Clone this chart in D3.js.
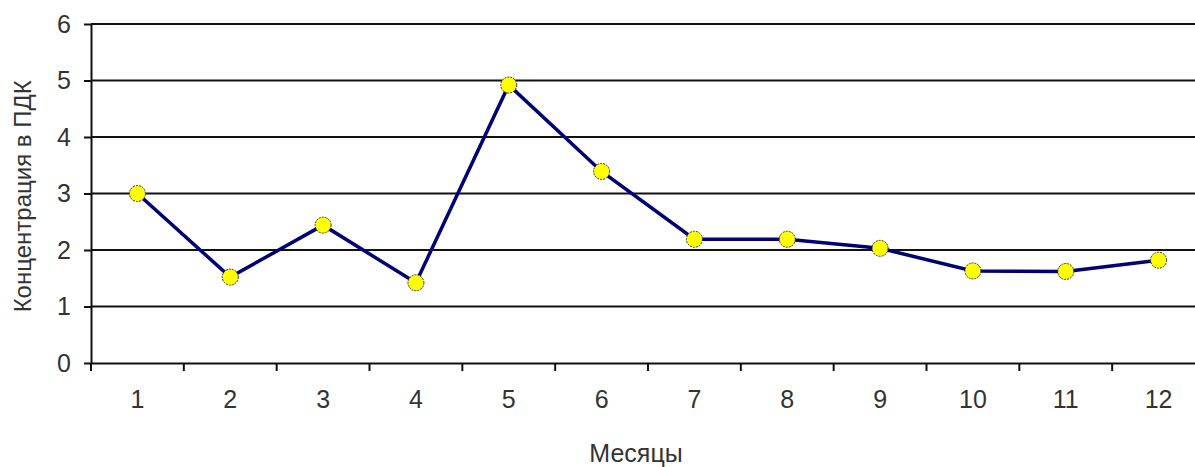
<!DOCTYPE html>
<html>
<head>
<meta charset="utf-8">
<script src="https://cdn.jsdelivr.net/npm/d3@7"></script>
<style>
  body { margin: 0; background: #fff; }
  svg { display: block; font-family: "Liberation Sans", Arial, sans-serif; }
</style>
</head>
<body>
<div id="chart"></div>
<script>
// data
var months = ["1", "2", "3", "4", "5", "6", "7", "8", "9", "10", "11", "12"];
var values = [3.0, 1.52, 2.44, 1.42, 4.92, 3.39, 2.19, 2.19, 2.03, 1.63, 1.62, 1.82];
var yTicks = [0, 1, 2, 3, 4, 5, 6];

var W = 1195, H = 467;
var margin = {top: 24, right: -10, bottom: 104, left: 91},
    width = W - margin.left - margin.right,
    height = H - margin.top - margin.bottom;

var svg = d3.select("#chart").append("svg")
    .attr("width", W)
    .attr("height", H)
  .append("g")
    .attr("transform", "translate(" + margin.left + "," + margin.top + ")");

var x = d3.scaleBand().domain(months).range([0, width]);
var y = d3.scaleLinear().domain([0, 6]).range([height, 0]);

// horizontal gridlines
svg.append("g").selectAll("line")
    .data(yTicks.filter(function(d) { return d > 0; }))
  .enter().append("line")
    .attr("x1", 0).attr("x2", width)
    .attr("y1", function(d) { return y(d); })
    .attr("y2", function(d) { return y(d); })
    .style("stroke", "#111")
    .style("stroke-width", 2);

// y axis
var yAxis = svg.append("g")
    .call(d3.axisLeft(y).tickValues(yTicks).tickFormat(d3.format("d"))
      .tickSize(7).tickSizeOuter(0).tickPadding(13));
// x axis
var xAxis = svg.append("g")
    .attr("transform", "translate(0," + height + ")")
    .call(d3.axisBottom(x).tickSize(0).tickPadding(27));

// x ticks sit between categories
svg.append("g").selectAll("line")
    .data(months)
  .enter().append("line")
    .attr("x1", function(d) { return x(d); })
    .attr("x2", function(d) { return x(d); })
    .attr("y1", height).attr("y2", height + 8)
    .style("stroke", "#111").style("stroke-width", 2);

[yAxis, xAxis].forEach(function(a) {
  a.select(".domain").style("stroke", "#111").style("stroke-width", 2);
  a.selectAll(".tick line").style("stroke", "#111").style("stroke-width", 2);
  a.selectAll("text").style("font-size", "25px").style("fill", "#333");
});

// the line
var line = d3.line()
    .x(function(d, i) { return x(months[i]) + x.bandwidth() / 2; })
    .y(function(d) { return y(d); });

svg.append("path")
    .datum(values)
    .attr("d", line)
    .style("fill", "none")
    .style("stroke", "#000078")
    .style("stroke-width", 3.5);

svg.append("g").selectAll("circle")
    .data(values)
  .enter().append("circle")
    .attr("cx", function(d, i) { return x(months[i]) + x.bandwidth() / 2; })
    .attr("cy", function(d) { return y(d); })
    .attr("r", 8)
    .style("fill", "#ffff00")
    .style("stroke", "#333")
    .style("stroke-width", 1)
    .style("stroke-dasharray", "2,1");

// axis titles
svg.append("text")
    .attr("x", (W - margin.left) / 2 - 7)
    .attr("y", height + 99)
    .attr("text-anchor", "middle")
    .style("font-size", "25px")
    .style("fill", "#333")
    .text("Месяцы");

svg.append("text")
    .attr("transform", "translate(" + (-margin.left + 31) + "," + (y(2.95)) + ") rotate(-90)")
    .attr("text-anchor", "middle")
    .style("font-size", "24px")
    .style("fill", "#333")
    .text("Концентрация в ПДК");
</script>
</body>
</html>
